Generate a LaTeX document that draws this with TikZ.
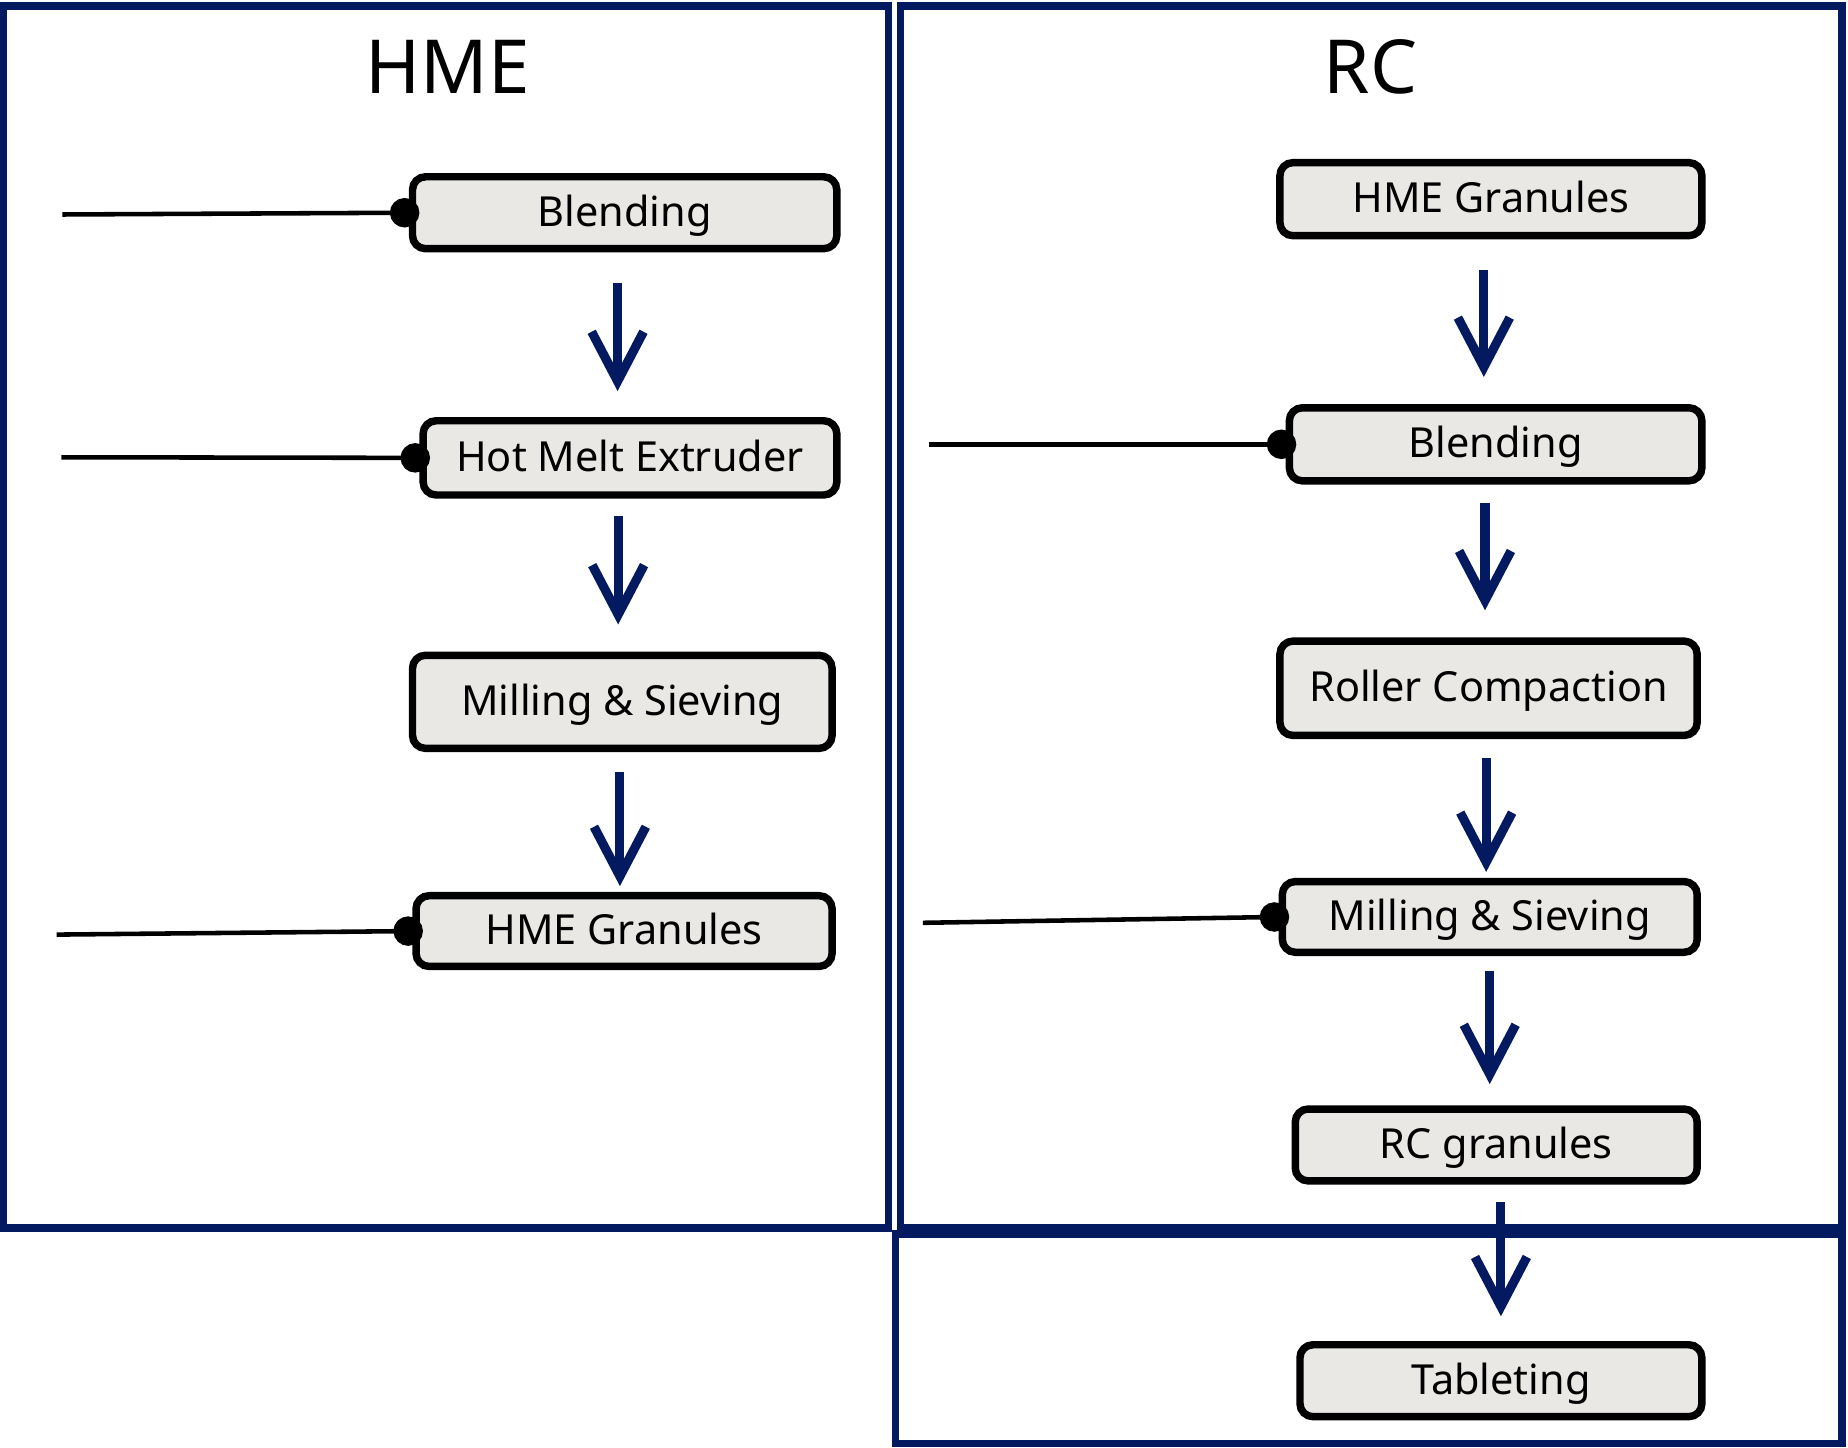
\documentclass[tikz,border=0pt]{standalone}
\usepackage{fontspec}
\setmainfont{Noto Sans}
\usetikzlibrary{positioning,arrows.meta}

\definecolor{navy}{RGB}{4,26,96}
\definecolor{boxgray}{RGB}{233,232,229}

\tikzset{
  stepbox/.style={draw=black,line width=1.8pt,fill=boxgray,rounded corners=0.11cm,
    inner sep=0pt,text height=1.6ex,text depth=0.4ex,font=\fontsize{10}{12}\selectfont},
  flow/.style={navy,line width=2.2pt,-{Straight Barb[length=0.42cm,width=0.44cm]}},
  feed/.style={black,line width=1.1pt,-{Circle[length=0.25cm]},shorten >=-0.09cm},
  frame/.style={navy,line width=1.8pt},
  title/.style={font=\fontsize{18}{22}\selectfont}
}

\begin{document}
\begin{tikzpicture}
\useasboundingbox (0,0) rectangle (15.68,-12.28);

\draw[frame] (0.03,-0.05) rectangle (7.54,-10.42);
\draw[frame] (7.64,-0.05) rectangle (15.63,-10.42);
\draw[frame] (7.60,-10.47) rectangle (15.63,-12.25);

\node[title] (hmeT) at (3.80,-0.57) {HME};
\node[title] (rcT)  at (11.63,-0.57) {RC};

% HME side
\node[stepbox,minimum width=3.60cm,minimum height=0.61cm] (blendA) at (5.30,-1.805) {Blending};
\node[stepbox,minimum width=3.51cm,minimum height=0.63cm] (hmx)    at (5.345,-3.885) {Hot Melt Extruder};
\node[stepbox,minimum width=3.56cm,minimum height=0.79cm] (millA)  at (5.28,-5.955) {Milling \& Sieving};
\node[stepbox,minimum width=3.53cm,minimum height=0.60cm] (granA)  at (5.295,-7.90) {HME Granules};

% RC side
\node[stepbox,minimum width=3.58cm,minimum height=0.62cm] (granB)  at (12.65,-1.69) {HME Granules};
\node[stepbox,minimum width=3.50cm,minimum height=0.62cm] (blendB) at (12.69,-3.77) {Blending};
\node[stepbox,minimum width=3.54cm,minimum height=0.80cm] (roller) at (12.63,-5.84) {Roller Compaction};
\node[stepbox,minimum width=3.52cm,minimum height=0.60cm] (millB)  at (12.64,-7.78) {Milling \& Sieving};
\node[stepbox,minimum width=3.41cm,minimum height=0.61cm] (rcgran) at (12.695,-9.715) {RC granules};
\node[stepbox,minimum width=3.41cm,minimum height=0.61cm] (tablet) at (12.735,-11.715) {Tableting};

\coordinate (inBlendA) at (0.53,-1.82);
\coordinate (inHmx)    at (0.52,-3.88);
\coordinate (inGranA)  at (0.48,-7.93);
\coordinate (inBlendB) at (7.88,-3.77);
\coordinate (inMillB)  at (7.83,-7.83);

\draw[feed] (inBlendA) -- (blendA.west);
\draw[feed] (inHmx)    -- (hmx.west);
\draw[feed] (inGranA)  -- (granA.west);
\draw[feed] (inBlendB) -- (blendB.west);
\draw[feed] (inMillB)  -- (millB.west);

\draw[flow,shorten <=0.26cm,shorten >=0.22cm] ([xshift=-0.06cm]blendA.south) -- ([xshift=-0.06cm]blendA.south |- hmx.north);
\draw[flow,shorten <=0.15cm,shorten >=0.23cm] ([xshift=-0.10cm]hmx.south)    -- ([xshift=-0.10cm]hmx.south |- millA.north);
\draw[flow,shorten <=0.17cm,shorten >=0.05cm] ([xshift=-0.02cm]millA.south)  -- ([xshift=-0.02cm]millA.south |- granA.north);

\draw[flow,shorten <=0.26cm,shorten >=0.23cm] ([xshift=-0.06cm]granB.south)  -- ([xshift=-0.06cm]granB.south |- blendB.north);
\draw[flow,shorten <=0.16cm,shorten >=0.23cm] ([xshift=-0.09cm]blendB.south) -- ([xshift=-0.09cm]blendB.south |- roller.north);
\draw[flow,shorten <=0.16cm,shorten >=0.05cm] ([xshift=-0.02cm]roller.south) -- ([xshift=-0.02cm]roller.south |- millB.north);
\draw[flow,shorten <=0.13cm,shorten >=0.18cm] (millB.south)  -- (millB.south |- rcgran.north);
\draw[flow,shorten <=0.15cm,shorten >=0.21cm] ([xshift=0.04cm]rcgran.south) -- ([xshift=0.04cm]rcgran.south |- tablet.north);

\end{tikzpicture}
\end{document}
